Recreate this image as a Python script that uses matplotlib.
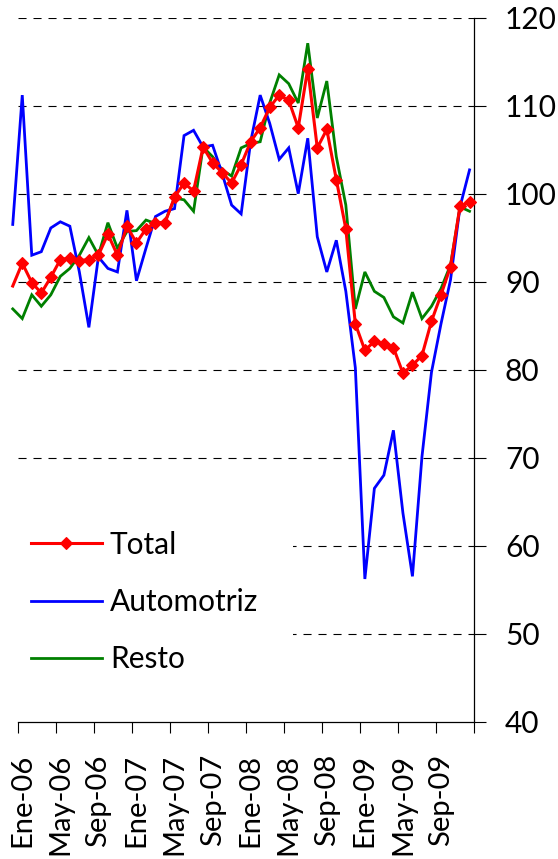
import matplotlib
matplotlib.use("Agg")
import matplotlib.pyplot as plt
from matplotlib.patches import Rectangle
import numpy as np

plt.rcParams['font.family'] = ['Lato', 'DejaVu Sans']
plt.rcParams['lines.scale_dashes'] = False

# Monthly data Dic-05 .. Dic-09 (first value is Dic-05, drawn just left of the axis)
total = [89.5,
         92.1, 89.9, 88.7, 90.5, 92.5, 92.7, 92.4, 92.5, 93.0, 95.4, 93.0, 96.3,
         94.4, 96.0, 96.7, 96.7, 99.6, 101.2, 100.3, 105.3, 103.5, 102.4, 101.2, 103.3,
         105.9, 107.5, 109.8, 111.2, 110.6, 107.5, 114.2, 105.2, 107.3, 101.6, 96.0, 85.2,
         82.2, 83.2, 82.9, 82.5, 79.6, 80.5, 81.6, 85.5, 88.5, 91.7, 98.6, 99.0]
automotriz = [96.5,
              111.2, 93.0, 93.4, 96.1, 96.8, 96.3, 91.1, 84.8, 92.8, 91.5, 91.1, 98.1,
              90.1, 93.8, 97.4, 98.0, 98.3, 106.6, 107.2, 105.3, 105.5, 102.3, 98.7, 97.7,
              105.9, 111.2, 108.0, 103.9, 105.2, 100.0, 106.3, 95.1, 91.1, 94.7, 88.9, 80.2,
              56.2, 66.5, 68.0, 73.1, 63.7, 56.5, 70.1, 79.7, 85.2, 90.2, 98.5, 102.7]
resto = [86.9,
         85.8, 88.5, 87.2, 88.5, 90.6, 91.5, 93.0, 95.0, 93.0, 96.7, 93.8, 95.7,
         95.8, 97.0, 96.6, 96.8, 99.5, 99.3, 98.0, 105.3, 104.2, 102.7, 102.0, 105.2,
         105.7, 105.9, 110.3, 113.5, 112.5, 110.3, 117.1, 108.6, 112.8, 104.2, 98.7, 86.9,
         91.1, 88.9, 88.2, 86.0, 85.3, 88.8, 85.8, 87.2, 89.2, 91.9, 98.5, 98.0]

tick_labels = ["Ene-06", "May-06", "Sep-06", "Ene-07", "May-07", "Sep-07",
               "Ene-08", "May-08", "Sep-08", "Ene-09", "May-09", "Sep-09"]
yticks = [40, 50, 60, 70, 80, 90, 100, 110, 120]

x = np.arange(len(total)) - 1  # -1 = Dic-05

W, H = 558, 859
fig = plt.figure(figsize=(W / 100, H / 100), dpi=100)
left, right = 17.5 / W, 474.3 / W
bottom, top = 1 - 721.5 / H, 1 - 17.7 / H
ax = fig.add_axes([left, bottom, right - left, top - bottom])

ax.set_xlim(-0.5, 47.5)
ax.set_ylim(40, 120)

# gridlines
for v in yticks[1:]:
    ax.axhline(v, color='black', lw=0.8, dashes=(5.8, 5.0), zorder=1)

# white legend background covering the gridlines
ax.add_patch(Rectangle((10 / W, 1 - 690 / H), (293 - 10) / W, (690 - 515) / H,
                       transform=fig.transFigure, facecolor='white',
                       edgecolor='none', zorder=2, clip_on=False))

l_res, = ax.plot(x, resto, color='#008000', lw=2.0, clip_on=False, zorder=3,
                 label='Resto', solid_joinstyle='miter')
l_aut, = ax.plot(x, automotriz, color='#0000FF', lw=2.0, clip_on=False, zorder=4,
                 label='Automotriz', solid_joinstyle='miter')
l_tot, = ax.plot(x, total, color='#FF0000', lw=2.2, clip_on=False, zorder=5,
                 marker='D', ms=6.0, mec='#FF0000', mfc='#FF0000', mew=0.8,
                 markevery=slice(1, None), label='Total')

# spines
for s in ['top', 'left']:
    ax.spines[s].set_visible(False)
ax.spines['right'].set_linewidth(0.9)
ax.spines['bottom'].set_linewidth(0.9)

# y axis on the right
ax.yaxis.tick_right()
ax.set_yticks(yticks)
ax.set_yticklabels([str(v) for v in yticks])
ax.tick_params(axis='y', direction='out', length=8.6, width=0.8, pad=13.5,
               labelsize=21.5, colors='black', left=False)

# x axis: labels at category centers, tick marks between categories
ax.set_xticks(np.arange(0, 48, 4))
ax.set_xticklabels(tick_labels, rotation=90, va='top', ha='center')
ax.set_xticks(np.arange(-0.5, 48, 4), minor=True)
ax.tick_params(axis='x', which='major', length=0, pad=23.5, labelsize=21)
ax.tick_params(axis='x', which='minor', direction='out', length=8.2, width=0.8, color='black')

fig.legend(handles=[l_tot, l_aut, l_res], labels=['Total', 'Automotriz', 'Resto'],
           loc='center left', bbox_to_anchor=(31 / W, 1 - 602 / H),
           bbox_transform=fig.transFigure, frameon=False, fontsize=21.5,
           handlelength=2.37, handletextpad=0.27, labelspacing=0.98,
           borderpad=0, borderaxespad=0, numpoints=1)

fig.savefig('out.png', dpi=100)
